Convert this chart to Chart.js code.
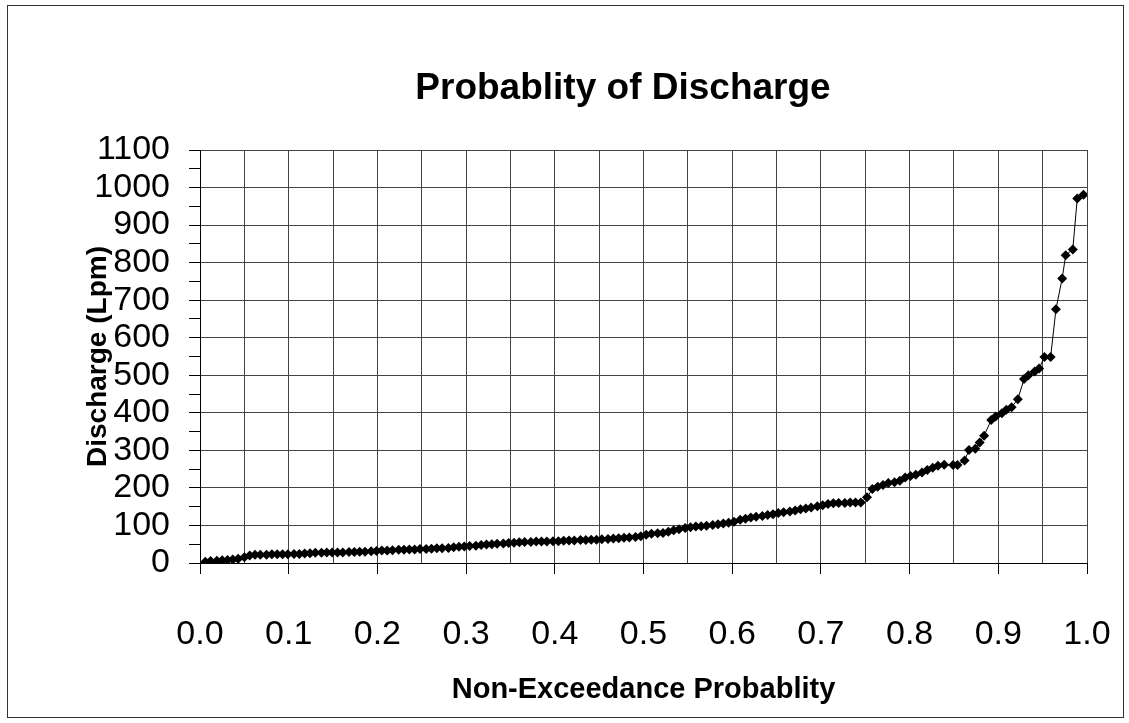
<!DOCTYPE html>
<html>
<head>
<meta charset="utf-8">
<script src="https://cdn.jsdelivr.net/npm/chart.js@4/dist/chart.umd.min.js"></script>
<style>
html,body{margin:0;padding:0;background:#fff;}
#wrap{position:relative;width:1129px;height:723px;}
</style>
</head>
<body>
<div id="wrap"><canvas id="c" width="1129" height="723"></canvas></div>
<script>
const chartTitle = 'Probablity of Discharge';
const xTitle = 'Non-Exceedance Probablity';
const yTitle = 'Discharge (Lpm)';

const probability = [
0.006,0.012,0.019,0.025,0.031,0.037,0.043,0.050,0.056,0.062,
0.068,0.075,0.081,0.087,0.093,0.099,0.106,0.112,0.118,0.124,
0.130,0.137,0.143,0.149,0.155,0.161,0.168,0.174,0.180,0.186,
0.193,0.199,0.205,0.211,0.217,0.224,0.230,0.236,0.242,0.248,
0.255,0.261,0.267,0.273,0.280,0.286,0.292,0.298,0.304,0.311,
0.317,0.323,0.329,0.335,0.342,0.348,0.354,0.360,0.366,0.373,
0.379,0.385,0.391,0.398,0.404,0.410,0.416,0.422,0.429,0.435,
0.441,0.447,0.453,0.460,0.466,0.472,0.478,0.484,0.491,0.497,
0.503,0.509,0.516,0.522,0.528,0.534,0.540,0.547,0.553,0.559,
0.565,0.571,0.578,0.584,0.590,0.596,0.602,0.609,0.615,0.621,
0.627,0.634,0.640,0.646,0.652,0.658,0.665,0.671,0.677,0.683,
0.689,0.696,0.702,0.708,0.714,0.720,0.727,0.733,0.739,0.745,
0.752,0.758,0.764,0.770,0.776,0.783,0.789,0.795,0.801,0.807,
0.814,0.820,0.826,0.832,0.839,
0.849,0.854,0.862,0.867,0.874,0.879,0.884,0.892,0.897,0.904,
0.909,0.915,0.922,0.929,0.934,0.941,0.946,0.952,0.959,0.965,
0.972,0.976,0.984,0.989,0.996
];

const discharge = [
3,5,6,7,8,9,11,15,20,22,
22,22,23,23,23,23,24,24,25,26,
27,27,28,28,28,28,29,29,30,30,
31,32,33,33,34,35,35,36,36,37,
37,38,39,39,40,42,43,44,45,46,
48,49,50,51,52,53,54,55,56,56,
57,57,57,58,58,59,60,60,61,61,
62,62,63,64,65,66,67,68,69,71,
75,78,79,80,83,87,90,93,95,97,
98,99,101,103,105,107,110,115,118,121,
123,125,128,130,133,135,137,140,143,145,
148,151,154,157,159,160,160,161,161,161,
175,197,203,208,213,215,219,228,232,235,
241,248,254,259,262,
261,261,273,301,304,321,339,381,390,399,
408,415,436,490,500,510,518,549,549,676,
758,820,835,971,981
];

const xMin = 0, xMax = 1, xStep = 0.05;
const yMin = 0, yMax = 1100, yStep = 50;

const FONT = "'Liberation Sans', Arial, Helvetica, sans-serif";

const points = probability.map((p, i) => ({x: p, y: discharge[i]}));

const decor = {
  id: 'decor',
  beforeDraw(chart) {
    const ctx = chart.ctx;
    ctx.save();
    ctx.fillStyle = '#fff';
    ctx.fillRect(0, 0, chart.width, chart.height);
    ctx.strokeStyle = '#333';
    ctx.lineWidth = 1;
    ctx.strokeRect(7.5, 5.5, 1116, 712);
    ctx.restore();
  },
  afterDraw(chart) {
    const ctx = chart.ctx;
    ctx.save();
    ctx.fillStyle = '#000';
    ctx.font = "bold 37px " + FONT;
    ctx.textAlign = 'center';
    ctx.textBaseline = 'middle';
    ctx.fillText(chartTitle, 623, 89);
    ctx.restore();
  }
};

const isMajorX = v => Math.round(v * 100) % 10 === 0;
const isMajorY = v => Math.round(v) % 100 === 0;

new Chart(document.getElementById('c'), {
  type: 'scatter',
  data: {
    datasets: [{
      data: points,
      showLine: true,
      borderColor: '#000',
      borderWidth: 1,
      backgroundColor: '#000',
      pointStyle: 'rectRot',
      pointRadius: 5,
      pointBorderWidth: 0,
      pointBackgroundColor: '#000',
      tension: 0
    }]
  },
  options: {
    responsive: false,
    animation: false,
    devicePixelRatio: 1,
    layout: {padding: {top: 150, right: 42, bottom: 0, left: 0}},
    plugins: {
      legend: {display: false},
      title: {display: false},
      tooltip: {enabled: false}
    },
    scales: {
      x: {
        type: 'linear',
        min: xMin, max: xMax,
        afterFit(scale) {
          scale.height = 160;
          scale.paddingLeft = 0;
          scale.paddingRight = 0;
        },
        ticks: {
          stepSize: xStep,
          autoSkip: false,
          maxRotation: 0,
          padding: 40,
          color: '#000',
          font: {family: FONT, size: 34},
          callback: v => isMajorX(v) ? v.toFixed(1) : ''
        },
        grid: {
          color: '#444',
          lineWidth: 1,
          tickLength: 11,
          tickColor: ctx => (ctx.tick && isMajorX(ctx.tick.value)) ? '#000' : 'rgba(0,0,0,0)'
        },
        border: {color: '#000', width: 1},
        title: {
          display: true,
          text: xTitle,
          color: '#000',
          font: {family: FONT, size: 29, weight: 'bold'},
          padding: {top: 0, bottom: 16}
        }
      },
      y: {
        type: 'linear',
        min: yMin, max: yMax,
        afterFit(scale) {
          scale.width = 200;
          scale.paddingTop = 0;
          scale.paddingBottom = 0;
        },
        ticks: {
          stepSize: yStep,
          autoSkip: false,
          padding: 19,
          color: '#000',
          font: {family: FONT, size: 34},
          callback: v => isMajorY(v) ? String(v) : ''
        },
        grid: {
          color: ctx => (ctx.tick && isMajorY(ctx.tick.value)) ? '#444' : 'rgba(0,0,0,0)',
          lineWidth: 1,
          tickLength: 11,
          tickColor: '#000'
        },
        border: {color: '#000', width: 1},
        title: {
          display: true,
          text: yTitle,
          color: '#000',
          font: {family: FONT, size: 28, weight: 'bold'},
          padding: {top: 81, bottom: 0}
        }
      }
    }
  },
  plugins: [decor]
});
</script>
</body>
</html>
